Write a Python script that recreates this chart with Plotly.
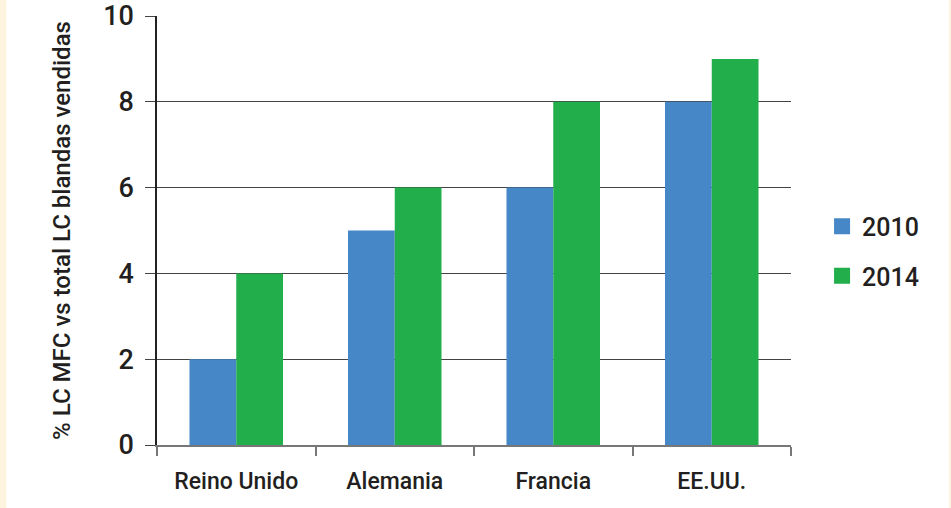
import plotly.graph_objects as go

categories = ["Reino Unido", "Alemania", "Francia", "EE.UU."]
series_names = ["2010", "2014"]
values_2010 = [2, 5, 6, 8]
values_2014 = [4, 6, 8, 9]
y_ticks = [0, 2, 4, 6, 8, 10]
y_title = "% LC MFC vs total LC blandas vendidas"

colors = ["#4587c7", "#22ae4b"]
text_color = "#231f20"
font_family = "Roboto, Arial, sans-serif"

fig = go.Figure()
for name, vals, col in zip(series_names, [values_2010, values_2014], colors):
    fig.add_trace(go.Bar(x=categories, y=vals, name=name, marker=dict(color=col, line=dict(width=0)),
                         showlegend=False))
    fig.add_trace(go.Scatter(x=[None], y=[None], mode="markers", name=name,
                             marker=dict(symbol="square", size=16, color=col),
                             legendgroup=name))

fig.update_layout(
    width=951, height=508,
    margin=dict(l=157, r=160, t=16, b=63, autoexpand=False),
    paper_bgcolor="white",
    plot_bgcolor="white",
    barmode="group",
    bargap=0.41,
    bargroupgap=0,
    font=dict(family=font_family, color=text_color),
    legend=dict(x=1.049, y=0.452, xanchor="left", yanchor="middle",
                font=dict(size=25, family=font_family, color=text_color, weight=500),
                tracegroupgap=14, bgcolor="rgba(0,0,0,0)"),
    shapes=[
        dict(type="rect", xref="paper", yref="paper", x0=-0.26, x1=-0.2376, y0=-0.2, y1=1.1,
             fillcolor="#fdf3df", line=dict(width=0), layer="below"),
        dict(type="rect", xref="paper", yref="paper", x0=1.2489, x1=1.27, y0=-0.2, y1=1.1,
             fillcolor="#fdf3df", line=dict(width=0), layer="below"),
    ],
)

fig.update_xaxes(
    automargin=False,
    showline=True, linecolor="#777777", linewidth=2,
    ticks="outside", tickson="boundaries", ticklen=9, tickcolor="#777777", tickwidth=2,
    tickfont=dict(size=23, family=font_family, color=text_color, weight=500),
    ticklabelstandoff=14,
    showgrid=False, zeroline=False,
)
fig.update_yaxes(
    automargin=False,
    range=[0, 10], tickvals=y_ticks,
    showline=True, linecolor="#222222", linewidth=1.5,
    ticks="outside", ticklen=10, tickcolor="#444444", tickwidth=1,
    showgrid=True, gridcolor="#444444", gridwidth=1,
    zeroline=False,
    tickfont=dict(size=27, family=font_family, color=text_color, weight=500),
    ticklabelstandoff=6,
    title=dict(text=y_title, font=dict(size=24, family=font_family, color=text_color, weight=500), standoff=26),
)

fig.write_html("out.html")
